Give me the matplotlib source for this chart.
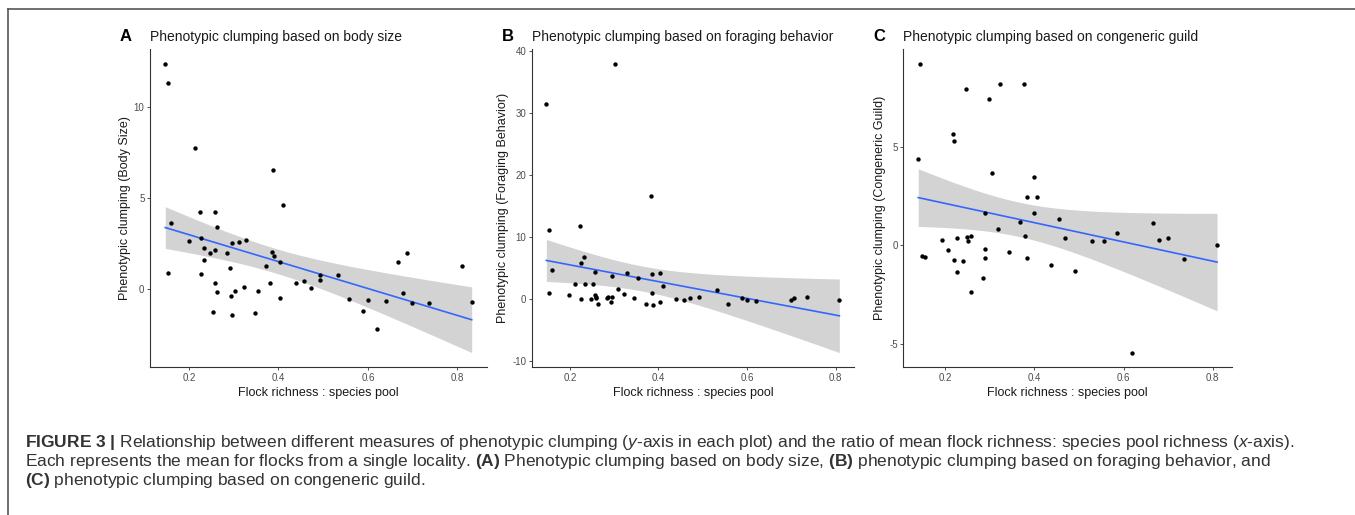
import numpy as np
import matplotlib
matplotlib.use("Agg")
import matplotlib.pyplot as plt
from matplotlib.lines import Line2D

plt.rcParams["font.family"] = ["Liberation Sans", "DejaVu Sans"]
plt.rcParams["axes.unicode_minus"] = False
plt.rcParams["mathtext.fontset"] = "custom"
plt.rcParams["mathtext.rm"] = "Liberation Sans"
plt.rcParams["mathtext.it"] = "Liberation Sans:italic"
plt.rcParams["mathtext.bf"] = "Liberation Sans:bold"

# panel A: body size
body_x = [0.147, 0.152, 0.213, 0.388, 0.410, 0.225, 0.257, 0.160, 0.263, 0.226,
          0.199, 0.311, 0.296, 0.327, 0.233, 0.257, 0.246, 0.284, 0.385, 0.389,
          0.233, 0.404, 0.373, 0.153, 0.226, 0.291, 0.257, 0.381, 0.439, 0.457,
          0.493, 0.493, 0.532, 0.472, 0.322, 0.302, 0.355, 0.263, 0.294, 0.404,
          0.253, 0.296, 0.348, 0.557, 0.601, 0.640, 0.588, 0.620, 0.668, 0.687,
          0.679, 0.699, 0.736, 0.810, 0.832]
body_y = [12.36, 11.33, 7.75, 6.55, 4.62, 4.24, 4.24, 3.62, 3.42, 2.84,
          2.64, 2.60, 2.53, 2.73, 2.25, 2.15, 2.02, 1.98, 2.05, 1.85,
          1.60, 1.53, 1.31, 0.91, 0.87, 1.18, 0.36, 0.36, 0.36, 0.45,
          0.78, 0.53, 0.78, 0.07, 0.16, -0.09, -0.09, -0.13, -0.38, -0.45,
          -1.24, -1.38, -1.27, -0.53, -0.58, -0.65, -1.16, -2.15, 1.51, 2.02,
          -0.22, -0.73, -0.75, 1.31, -0.67]

# panel B: foraging behavior
forag_x = [0.147, 0.301, 0.382, 0.152, 0.223, 0.160, 0.153, 0.199, 0.211, 0.225,
           0.232, 0.235, 0.225, 0.247, 0.252, 0.256, 0.256, 0.260, 0.258, 0.264,
           0.283, 0.287, 0.293, 0.295, 0.295, 0.308, 0.322, 0.328, 0.345, 0.354,
           0.372, 0.385, 0.386, 0.388, 0.404, 0.404, 0.411, 0.440, 0.457, 0.472,
           0.492, 0.532, 0.557, 0.588, 0.600, 0.620, 0.699, 0.705, 0.735, 0.808]
forag_y = [31.5, 37.97, 16.6, 11.2, 11.8, 4.6, 0.9, 0.65, 2.37, 5.75,
           6.72, 2.47, 0.05, 0.0, 2.37, 4.4, 0.6, 0.16, 0.32, -0.75,
           0.1, 0.27, -0.48, 0.32, 3.76, 1.56, 0.8, 4.25, 0.21, 3.39,
           -0.75, 0.97, 3.98, -0.91, 4.25, -0.48, 2.04, 0.0, -0.16, 0.21,
           0.38, 1.45, -0.75, 0.1, -0.1, -0.27, -0.1, 0.1, 0.32, -0.1]

# panel C: congeneric guild
guild_x = [0.143, 0.247, 0.322, 0.376, 0.297, 0.217, 0.220, 0.139, 0.304, 0.398,
           0.384, 0.406, 0.398, 0.289, 0.368, 0.454, 0.318, 0.379, 0.469, 0.530,
           0.556, 0.585, 0.666, 0.680, 0.699, 0.810, 0.735, 0.193, 0.226, 0.249,
           0.251, 0.258, 0.147, 0.154, 0.205, 0.220, 0.239, 0.227, 0.258, 0.285,
           0.289, 0.290, 0.343, 0.384, 0.436, 0.491, 0.619]
guild_y = [9.22, 7.95, 8.19, 8.19, 7.44, 5.68, 5.31, 4.37, 3.69, 3.49,
           2.46, 2.46, 1.63, 1.66, 1.19, 1.31, 0.83, 0.46, 0.37, 0.22,
           0.22, 0.64, 1.15, 0.25, 0.37, 0.0, -0.69, 0.25, 0.37, 0.42,
           0.22, 0.49, -0.54, -0.59, -0.24, -0.73, -0.81, -1.34, -2.36, -1.69,
           -0.66, -0.2, -0.32, -0.66, -1.0, -1.31, -5.46]

panels = [
    ("A", "Phenotypic clumping based on body size", "Phenotypic clumping (Body Size)",
     body_x, body_y, [0, 5, 10]),
    ("B", "Phenotypic clumping based on foraging behavior", "Phenotypic clumping (Foraging Behavior)",
     forag_x, forag_y, [-10, 0, 10, 20, 30, 40]),
    ("C", "Phenotypic clumping based on congeneric guild", "Phenotypic clumping (Congeneric Guild)",
     guild_x, guild_y, [-5, 0, 5]),
]
x_ticks = [0.2, 0.4, 0.6, 0.8]

W, H = 1355, 515
fig = plt.figure(figsize=(W / 100, H / 100), dpi=100)

# axes boxes in pixels: left, right
boxes = [(150, 487), (531.7, 854), (903.3, 1232)]
top_px, bot_px = 49.5, 367

T975 = 2.01  # t quantile, df ~ 48


def lm_band(x, y, xs):
    x = np.asarray(x)
    y = np.asarray(y)
    n = len(x)
    b, a = np.polyfit(x, y, 1)
    resid = y - (a + b * x)
    s = np.sqrt(np.sum(resid ** 2) / (n - 2))
    sxx = np.sum((x - x.mean()) ** 2)
    se = s * np.sqrt(1 / n + (xs - x.mean()) ** 2 / sxx)
    fit = a + b * xs
    return fit, fit - T975 * se, fit + T975 * se


for (letter, title, ylab, xs_, ys_, yt), (l, r) in zip(panels, boxes):
    ax = fig.add_axes([l / W, 1 - bot_px / H, (r - l) / W, (bot_px - top_px) / H])
    grid = np.linspace(min(xs_), max(xs_), 80)
    fit, lo, hi = lm_band(xs_, ys_, grid)
    ax.fill_between(grid, lo, hi, color="#d3d3d3", lw=0, zorder=1)
    ax.plot(grid, fit, color="#3366FF", lw=1.2, zorder=2)
    ax.scatter(xs_, ys_, s=10, color="black", lw=0, zorder=3)
    ax.margins(0.05)
    ax.set_xticks(x_ticks)
    ax.set_xticklabels([f"{t:.1f}" for t in x_ticks])
    ax.set_yticks(yt)
    ax.set_yticklabels([str(t) for t in yt])
    for side in ("top", "right"):
        ax.spines[side].set_visible(False)
    for side in ("left", "bottom"):
        ax.spines[side].set_color("#333333")
        ax.spines[side].set_linewidth(0.8)
    ax.tick_params(length=2.5, width=0.6, color="#333333", labelsize=7,
                   labelcolor="#4d4d4d", pad=1.5)
    ax.set_xlabel("Flock richness : species pool", fontsize=9, color="#1a1a1a", labelpad=3)
    ax.set_ylabel(ylab, fontsize=9, color="#1a1a1a", labelpad=2)
    ax.text(l / W, 1 - 36.5 / H, title, transform=fig.transFigure, fontsize=10,
            ha="left", va="center", color="#1a1a1a")
    ax.text((l - 24) / W, 1 - 36.5 / H, letter, transform=fig.transFigure, fontsize=12,
            fontweight="bold", ha="center", va="center", color="black")

# frame around the figure
fig.add_artist(Line2D([8 / W, 1], [1 - 8.5 / H, 1 - 8.5 / H], transform=fig.transFigure,
                      color="#555555", lw=1.2))
fig.add_artist(Line2D([8 / W, 8 / W], [0, 1 - 8.5 / H], transform=fig.transFigure,
                      color="#555555", lw=1.2))

caption = [
    r"$\mathbf{FIGURE\ 3\ |}$ Relationship between different measures of phenotypic clumping "
    r"($\mathit{y}$-axis in each plot) and the ratio of mean flock richness: species pool richness ($\mathit{x}$-axis).",
    r"Each represents the mean for flocks from a single locality. $\mathbf{(A)}$ Phenotypic clumping based on body size, "
    r"$\mathbf{(B)}$ phenotypic clumping based on foraging behavior, and",
    r"$\mathbf{(C)}$ phenotypic clumping based on congeneric guild.",
]
for line, yp in zip(caption, [442.7, 461.7, 480]):
    fig.text(25 / W, 1 - yp / H, line, fontsize=12.5, color="#333333", ha="left", va="center")

fig.savefig("out.png", dpi=100)
